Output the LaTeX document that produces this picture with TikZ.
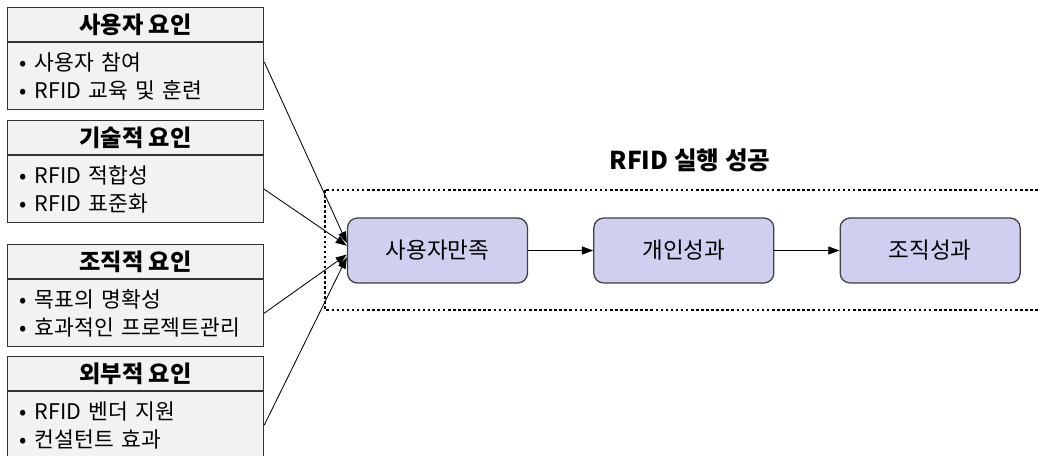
\documentclass[tikz,border=0pt]{standalone}
\usepackage{fontspec}
\setmainfont{Noto Sans CJK KR}
\usetikzlibrary{positioning,arrows.meta}
\definecolor{stagefill}{RGB}{207,207,239}
\definecolor{factorfill}{RGB}{242,242,242}
\newcommand{\bul}{•\hspace{0.2cm}}
\tikzset{
  factortitle/.style={draw=black!80, fill=factorfill, line width=0.8pt, minimum width=6.4cm, minimum height=0.85cm, inner sep=0pt, font=\fontsize{16.5}{18}\selectfont\bfseries},
  factorbody/.style={draw=black!80, fill=factorfill, line width=0.8pt, minimum width=6.4cm, minimum height=1.675cm, text width=5.8cm, inner xsep=0.3cm, align=left, font=\fontsize{15.3}{19.9}\selectfont},
  stagebox/.style={draw=black!75, fill=stagefill, rounded corners=0.25cm, line width=0.9pt, minimum width=4.5cm, minimum height=1.625cm, font=\fontsize{16}{18}\selectfont},
  link/.style={-{Triangle[length=0.28cm,width=0.2cm]}, line width=0.6pt}
}
\begin{document}
\begin{tikzpicture}
        [x=0.025cm,y=-0.025cm]
        \useasboundingbox (0,0) rectangle (1040,455);

        \node[factortitle, anchor=north west] (t1) at (7,7) {사용자 요인};
        \node[factorbody, below=0pt of t1] (b1) {\bul 사용자 참여\\\bul RFID 교육 및 훈련};
        \node[factortitle, anchor=north west] (t2) at (7,120) {기술적 요인};
        \node[factorbody, below=0pt of t2] (b2) {\bul RFID 적합성\\\bul RFID 표준화};
        \node[factortitle, anchor=north west] (t3) at (7,244) {조직적 요인};
        \node[factorbody, below=0pt of t3] (b3) {\bul 목표의 명확성\\\bul 효과적인 프로젝트관리};
        \node[factortitle, anchor=north west] (t4) at (7,356) {외부적 요인};
        \node[factorbody, below=0pt of t4] (b4) {\bul RFID 벤더 지원\\\bul 컨설턴트 효과};

        \draw[line width=1.8pt, dash pattern=on 1.8pt off 1.8pt] (325,190) rectangle (1060,310);
        \node[font=\fontsize{17.5}{18}\selectfont\bfseries] (goal) at (690,160) {RFID 실행 성공};

        \node[stagebox] (sat) at (437.5,250.5) {사용자만족};
        \node[stagebox, right=1.625cm of sat] (ind) {개인성과};
        \node[stagebox, right=1.625cm of ind] (org) {조직성과};

        \draw[link] (sat) -- (ind);
        \draw[link] (ind) -- (org);

        \draw[link] ([yshift=0.36cm]b1.east) -- ([yshift=0.19cm]sat.west);
        \draw[link] (b2.east) -- ([yshift=0.12cm]sat.west);
        \draw[link] (b3.east) -- ([yshift=-0.1cm]sat.west);
        \draw[link] (b4.east) -- ([yshift=-0.17cm]sat.west);
      \end{tikzpicture}
\end{document}
